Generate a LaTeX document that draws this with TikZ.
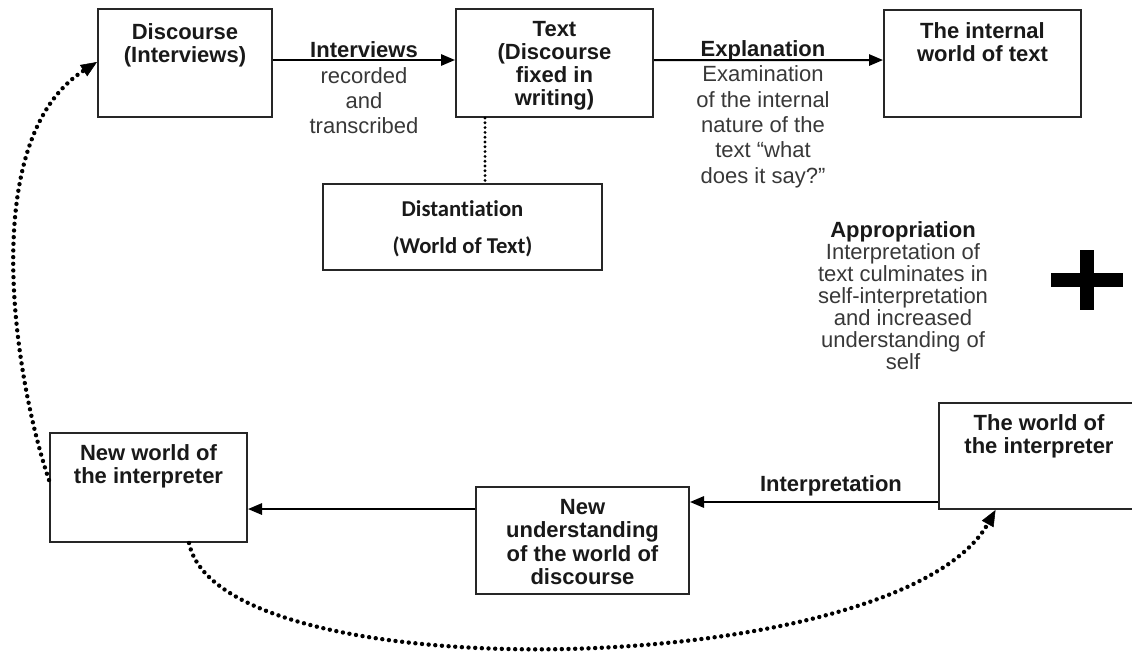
\documentclass[tikz,border=0pt]{standalone}
\usepackage{fontspec}
\setmainfont{Liberation Sans}
\newfontfamily\calfont[Ligatures=NoCommon]{Carlito}
\usetikzlibrary{arrows.meta,fit,calc}
\begin{document}
\begin{tikzpicture}[x=0.75pt,y=-0.75pt,
  box/.style={draw=black!85, line width=1.5pt, inner sep=0pt},
  btxt/.style={font=\fontsize{16.5}{17.3}\selectfont\bfseries, align=center, text=black!90, inner sep=0pt},
  rtxt/.style={font=\fontsize{16.5}{19}\selectfont, align=center, text=black!78, inner sep=0pt},
  arr/.style={line width=1.5pt, -{Triangle[length=10.5pt,width=8.5pt]}},
  dotline/.style={line width=3.3pt, dash pattern=on 0pt off 5pt, line cap=round},
  dotarr/.style={dotline, -{Triangle[length=12pt,width=10pt,line width=0.4pt]}}
]
\useasboundingbox (0,0) rectangle (1132,654);

% boxes and their captions
\node[box, fit={(98,9) (272,117)}] (disc) {};
\node[btxt] (disct) at (185,45) {Discourse\\(Interviews)};

\node[box, fit={(456,9) (653,117)}] (txt) {};
\node[btxt] (txtt) at (554.5,65.5) {Text\\(Discourse\\fixed in\\writing)};

\node[box, fit={(884,10) (1081,117)}] (inner) {};
\node[btxt] (innert) at (982.5,42) {The internal\\world of text};

\node[box, fit={(323,184) (602,270)}] (dist) {};
\node[font=\calfont\fontsize{17}{27.75}\selectfont\bfseries, align=center, inner sep=0pt, text=black!90] (distt) at (462.5,228.5) {Distantiation\\(World of Text)};

\node[box, fit={(50,433) (247,542)}] (nworld) {};
\node[btxt] (nworldt) at (148.5,466) {New world of\\the interpreter};

\node[box, fit={(476,487) (689,594)}] (nunder) {};
\node[btxt] (nundert) at (582.5,542) {New\\understanding\\of the world of\\discourse};

\node[box, fit={(939,403) (1140,509)}] (world) {};
\node[btxt] (worldt) at (1039,436.5) {The world of\\the interpreter};

% free-standing labels
\node[rtxt] (lint) at (364,88) {{\color{black!90}\bfseries Interviews}\\recorded\\and\\transcribed};
\node[rtxt] (lexp) at (763,114) {{\color{black!90}\bfseries Explanation}\\Examination\\of the internal\\nature of the\\text “what\\does it say?”};
\node[rtxt, font=\fontsize{16.5}{16.5}\selectfont] (lapp) at (903,296) {{\color{black!90}\bfseries Appropriation}\\Interpretation of\\text culminates in\\self-interpretation\\and increased\\understanding of\\self};
\node[btxt] (linterp) at (831,486) {Interpretation};

% plus sign
\fill[black] (1080,250) rectangle (1094,310);
\fill[black] (1051,273) rectangle (1123,287);

% solid connectors
\draw[arr] ([yshift=2.25pt]disc.east) -- ([yshift=2.25pt]txt.west);
\draw[arr] ([yshift=2.25pt]txt.east) -- ([yshift=2.6pt]inner.west);
\coordinate (pi) at ([yshift=-34.5pt]world.west);
\draw[arr] (pi) -- (pi -| nunder.east);
\coordinate (pn) at ([yshift=23.6pt]nunder.west);
\draw[arr] (pn) -- (pn -| nworld.east);

% dotted connectors
\coordinate (pt) at ([xshift=-52.1pt]txt.south);
\draw[dotline, line width=2.4pt, dash pattern=on 0pt off 3.6pt] (pt) -- (pt |- dist.north);
\draw[dotarr] ([yshift=5.6pt]nworld.west) .. controls (15,380) and (-24,140) .. ([yshift=0.75pt]disc.west);
\draw[dotarr] ([xshift=30.4pt]nworld.south) .. controls (220,695) and (900,680) .. ([xshift=-33pt]world.south);
\end{tikzpicture}
\end{document}
